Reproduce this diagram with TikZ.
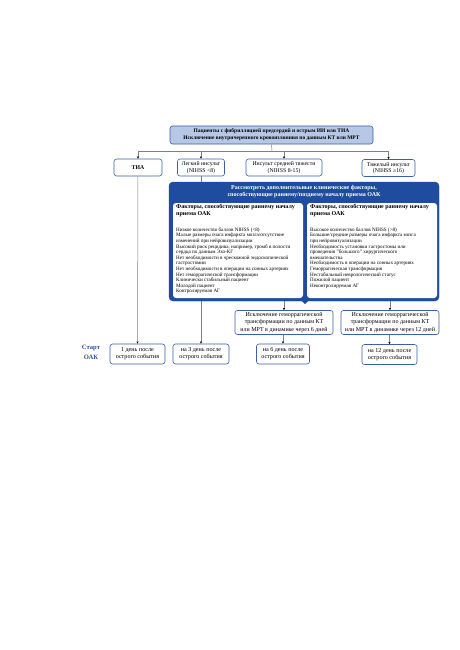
\documentclass[tikz,border=0pt]{standalone}
\usepackage{fontspec}
\setmainfont{Liberation Serif}
\usetikzlibrary{arrows.meta}

\definecolor{frameblue}{HTML}{3B5FA8}
\definecolor{paleblue}{HTML}{B7C8E6}
\definecolor{deepblue}{HTML}{1E4C9E}
\definecolor{startblue}{HTML}{2F5597}
\definecolor{linegray}{HTML}{808080}

\begin{document}
\begin{tikzpicture}[x=1pt, y=-1pt,
    box/.style={draw=frameblue, line width=0.6pt, rounded corners=2.5pt, fill=white,
      align=center, inner sep=0pt, font=\fontsize{5.8}{6.4}\selectfont},
    daybox/.style={box, minimum height=20, font=\fontsize{6.1}{7}\selectfont},
    link/.style={draw=linegray, line width=0.5pt, -{Stealth[length=2.4pt, width=2.2pt, black]}},
    plain/.style={draw=linegray, line width=0.5pt},
    factors/.style={align=left, anchor=north west, inner sep=0pt,
      font=\fontsize{5.1}{5.6}\selectfont},
    factorhead/.style={factors, font=\bfseries\fontsize{6}{6.2}\selectfont}]
  \useasboundingbox[fill=white] (0,0) rectangle (459,650);

  % top of the chart
  \node[box, fill=paleblue, minimum width=203, minimum height=18,
    font=\bfseries\fontsize{5.45}{7.2}\selectfont] (patients) at (271.5,135)
    {Пациенты с фибрилляцией предсердий и острым ИИ или ТИА\\
     Исключение внутричерепного кровоизлияния по данным КТ или МРТ};

  \node[box, minimum width=48, minimum height=17, font=\bfseries\fontsize{5.8}{6.4}\selectfont] (tia) at (138,167.5) {ТИА};
  \node[box, minimum width=47, minimum height=17] (mild) at (201,167.5) {Легкий инсульт\\(NIHSS <8)};
  \node[box, minimum width=76, minimum height=17] (moderate) at (284,167.5) {Инсульт средней тяжести\\(NIHSS 8-15)};
  \node[box, minimum width=53, minimum height=17] (severe) at (388.5,168) {Тяжелый инсульт\\(NIHSS ≥16)};

  \coordinate (bus) at (272,151);
  \draw[plain] (patients.south) -- (bus);
  \draw[plain] (tia.north|-bus) -- (severe.north|-bus);
  \foreach \grade in {tia,mild,moderate,severe}
    \draw[link] (\grade.north|-bus) -- (\grade.north);

  % start of treatment
  \node[daybox, minimum width=55] (day1) at (137.5,354) {1 день после\\острого события};
  \node[daybox, minimum width=56] (day3) at (201,354) {на 3 день после\\острого события};
  \node[daybox, minimum width=53] (day6) at (283,354) {на 6 день после\\острого события};
  \node[daybox, minimum width=55] (day12) at (389.5,354.5) {на 12 день после\\острого события};
  \node[text=startblue, align=center, font=\bfseries\fontsize{6.6}{10}\selectfont] (start) at (91,352) {Старт\\ОАК};

  \draw[link] (tia) -- (day1);
  \draw[link] (mild) -- (day3);

  % factors block
  \node[draw=deepblue, fill=deepblue, rounded corners=4pt, minimum width=270, minimum height=119,
    inner sep=0pt] (consider) at (304,241.5) {};
  \fill[deepblue] ([xshift=-3]consider.south-|305,0) -- ([xshift=3]consider.south-|305,0)
    -- ([yshift=-3]consider.south-|305,0) -- cycle;
  \node[text=white, align=center, inner sep=0pt, font=\bfseries\fontsize{6}{7.2}\selectfont]
    (question) at (304,191.5) {Рассмотреть дополнительные клинические факторы,\\
     способствующие раннему/позднему началу приема ОАК};
  \node[fill=white, rounded corners=3pt, minimum width=130, minimum height=95, inner sep=0pt]
    (early) at (238,250.5) {};
  \node[fill=white, rounded corners=3pt, minimum width=130, minimum height=95, inner sep=0pt]
    (late) at (372,250.5) {};

  \node[factorhead] (earlyhead) at (176,204.5)
    {Факторы, способствующие раннему началу\\приема ОАК};
  \node[factors] (earlylist) at (176,227.5)
    {Низкое количество баллов NIHSS (<8)\\
    Малые размеры очага инфаркта мозга/отсутствие\\
    изменений при нейровизуализации\\
    Высокий риск рецидива, например, тромб в полости\\
    сердца по данным Эхо-КГ\\
    Нет необходимости в чрескожной эндоскопической\\
    гастростомии\\
    Нет необходимости в операции на сонных артериях\\
    Нет геморрагической трансформации\\
    Клинически стабильный пациент\\
    Молодой пациент\\
    Контролируемая АГ};
  \node[factorhead] (latehead) at (310,204.5)
    {Факторы, способствующие раннему началу\\приема ОАК};
  \node[factors] (latelist) at (310,227.5)
    {Высокое количество баллов NIHSS (>8)\\
    Большие/средние размеры очага инфаркта мозга\\
    при нейровизуализации\\
    Необходимость установки гастростомы или\\
    проведения "большого" хирургического\\
    вмешательства\\
    Необходимость в операции на сонных артериях\\
    Геморрагическая трансформация\\
    Нестабильный неврологический статус\\
    Пожилой пациент\\
    Неконтролируемая АГ};

  % repeat imaging
  \node[box, minimum width=98, minimum height=24, font=\fontsize{6}{7.8}\selectfont] (check6) at (284,322.5)
    {Исключение геморрагической\\трансформации по данным КТ\\или МРТ в динамике через 6 дней};
  \node[box, minimum width=98, minimum height=24, font=\fontsize{6}{7.8}\selectfont] (check12) at (390,322.5)
    {Исключение геморрагической\\трансформации по данным КТ\\или МРТ в динамике через 12 дней};

  \draw[link] (check6.north|-consider.south) -- (check6.north);
  \draw[link] (check12.north|-consider.south) -- (check12.north);
  \draw[link] (check6.south-|day6) -- (day6.north);
  \draw[link] (check12.south-|day12) -- (day12.north);
\end{tikzpicture}
\end{document}
